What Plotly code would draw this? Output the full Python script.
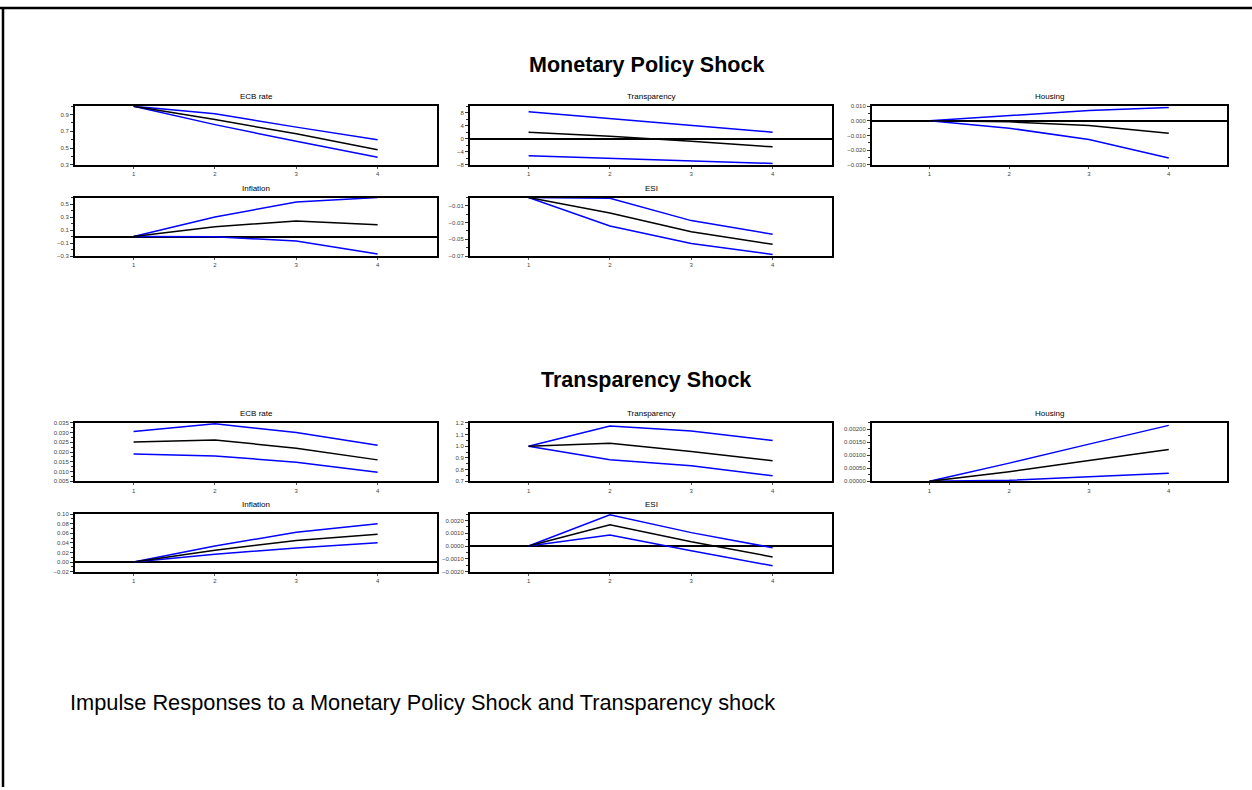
import plotly.graph_objs as go

W, H = 1252, 790

horizon = [1, 2, 3, 4]

# Monetary policy shock: responses (median, lower band, upper band)
mp_ecb_mid = [1.0, 0.84, 0.67, 0.48]
mp_ecb_lo = [1.0, 0.78, 0.58, 0.39]
mp_ecb_hi = [1.0, 0.91, 0.75, 0.60]

mp_transp_mid = [2.0, 0.8, -0.8, -2.5]
mp_transp_lo = [-5.2, -6.0, -6.8, -7.6]
mp_transp_hi = [8.3, 6.2, 4.2, 2.0]

mp_house_mid = [0.0, -0.0007, -0.0031, -0.0084]
mp_house_lo = [0.0, -0.0050, -0.0127, -0.0254]
mp_house_hi = [0.0, 0.0037, 0.0071, 0.0092]

mp_infl_mid = [0.0, 0.15, 0.24, 0.18]
mp_infl_lo = [0.0, -0.003, -0.07, -0.27]
mp_infl_hi = [0.0, 0.30, 0.53, 0.60]

mp_esi_mid = [0.0, -0.0186, -0.041, -0.056]
mp_esi_lo = [0.0, -0.034, -0.055, -0.068]
mp_esi_hi = [0.0, -0.001, -0.0276, -0.044]

# Transparency shock
ts_ecb_mid = [0.0252, 0.0262, 0.0220, 0.0160]
ts_ecb_lo = [0.0190, 0.0180, 0.0148, 0.0097]
ts_ecb_hi = [0.0305, 0.0345, 0.0300, 0.0235]

ts_transp_mid = [1.0, 1.025, 0.955, 0.876]
ts_transp_lo = [1.0, 0.884, 0.833, 0.748]
ts_transp_hi = [1.0, 1.172, 1.130, 1.048]

ts_house_mid = [0.0, 0.00037, 0.00080, 0.00122]
ts_house_lo = [0.0, 0.00004, 0.00018, 0.00031]
ts_house_hi = [0.0, 0.00070, 0.00143, 0.00215]

ts_infl_mid = [0.0, 0.0247, 0.045, 0.058]
ts_infl_lo = [0.0, 0.0164, 0.0295, 0.040]
ts_infl_hi = [0.0, 0.0335, 0.062, 0.080]

ts_esi_mid = [0.0, 0.00167, 0.00033, -0.00085]
ts_esi_lo = [0.0, 0.00087, -0.00036, -0.00154]
ts_esi_hi = [0.0, 0.00244, 0.00105, -0.00013]

FONT = "Liberation Sans Narrow, Arial Narrow, Liberation Sans, Arial, sans-serif"

# panel boxes in pixels: (left, right, top, bottom)
cols = [(75, 437), (470, 832), (872, 1227)]
rows = [(104, 163), (196, 255), (423, 482), (515, 573)]

panels = [
    # title, row, col, mid, lo, hi, yrange, dtick, minor dtick, format, zero line, tick0
    ("ECB rate", 0, 0, mp_ecb_mid, mp_ecb_lo, mp_ecb_hi, [0.3, 1.0], 0.2, 0.1, ".1f", False, 0.3),
    ("Transparency", 0, 1, mp_transp_mid, mp_transp_lo, mp_transp_hi, [-8, 10], 4, 2, "d", True, -8),
    ("Housing", 0, 2, mp_house_mid, mp_house_lo, mp_house_hi, [-0.03, 0.01], 0.01, 0.005, ".3f", True, -0.03),
    ("Inflation", 1, 0, mp_infl_mid, mp_infl_lo, mp_infl_hi, [-0.3, 0.6], 0.2, 0.1, ".1f", True, -0.3),
    ("ESI", 1, 1, mp_esi_mid, mp_esi_lo, mp_esi_hi, [-0.07, 0.0], 0.02, 0.01, ".2f", False, -0.07),
    ("ECB rate", 2, 0, ts_ecb_mid, ts_ecb_lo, ts_ecb_hi, [0.005, 0.035], 0.005, 0.0025, ".3f", False, 0.005),
    ("Transparency", 2, 1, ts_transp_mid, ts_transp_lo, ts_transp_hi, [0.7, 1.2], 0.1, 0.05, ".1f", False, 0.7),
    ("Housing", 2, 2, ts_house_mid, ts_house_lo, ts_house_hi, [0.0, 0.00225], 0.0005, 0.00025, ".5f", True, 0.0),
    ("Inflation", 3, 0, ts_infl_mid, ts_infl_lo, ts_infl_hi, [-0.02, 0.10], 0.02, 0.01, ".2f", True, -0.02),
    ("ESI", 3, 1, ts_esi_mid, ts_esi_lo, ts_esi_hi, [-0.002, 0.0025], 0.001, 0.0005, ".4f", True, -0.002),
]

fig = go.Figure()
annotations = []
layout = {}

for i, (title, r, c, mid, lo, hi, yr, dt, mdt, fmt, zero, t0) in enumerate(panels, start=1):
    xa = "x" if i == 1 else f"x{i}"
    ya = "y" if i == 1 else f"y{i}"
    left, right = cols[c]
    top, bottom = rows[r]
    for vals, colr in [(hi, "#0000ff"), (lo, "#0000ff"), (mid, "#000000")]:
        fig.add_trace(go.Scatter(x=horizon, y=vals, mode="lines", xaxis=xa, yaxis=ya,
                                 line=dict(color=colr, width=1.5), showlegend=False,
                                 hoverinfo="skip"))
    layout["xaxis" if i == 1 else f"xaxis{i}"] = dict(
        domain=[left / W, right / W], anchor=ya, range=[0.28, 4.73],
        tickvals=horizon, ticks="outside", ticklen=2, tickcolor="#555",
        tickfont=dict(size=6, color="#444", family=FONT),
        showline=True, linecolor="black", linewidth=2, mirror=True,
        showgrid=False, zeroline=False, fixedrange=True)
    layout["yaxis" if i == 1 else f"yaxis{i}"] = dict(
        domain=[1 - bottom / H, 1 - top / H], anchor=xa, range=yr,
        tick0=t0, dtick=dt, tickformat=fmt, ticks="outside", ticklen=3, tickcolor="#333",
        minor=dict(dtick=mdt, tick0=t0, ticks="outside", ticklen=2, tickcolor="#333"),
        tickfont=dict(size=6, color="#444", family=FONT),
        showline=True, linecolor="black", linewidth=2, mirror=True,
        showgrid=False, zeroline=zero, zerolinecolor="black", zerolinewidth=1.5,
        fixedrange=True)
    annotations.append(dict(text=title, x=(left + right) / 2 / W, y=1 - (top - 3) / H,
                            xref="paper", yref="paper", xanchor="center", yanchor="bottom",
                            showarrow=False, font=dict(size=8, color="black", family=FONT)))

annotations += [
    dict(text="<b>Monetary Policy Shock</b>", x=646 / W, y=1 - 62 / H, xref="paper", yref="paper",
         xanchor="center", yanchor="middle", showarrow=False,
         font=dict(size=21.5, color="black", family=FONT)),
    dict(text="<b>Transparency Shock</b>", x=646 / W, y=1 - 380 / H, xref="paper", yref="paper",
         xanchor="center", yanchor="middle", showarrow=False,
         font=dict(size=21.5, color="black", family=FONT)),
    dict(text="Impulse Responses to a Monetary Policy Shock and Transparency shock",
         x=68 / W, y=1 - 705 / H, xref="paper", yref="paper",
         xanchor="left", yanchor="middle", showarrow=False,
         font=dict(size=21.8, color="black", family=FONT)),
]

# page frame
shapes = [
    dict(type="line", xref="paper", yref="paper", x0=0, x1=1, y0=1 - 5 / H, y1=1 - 5 / H,
         line=dict(color="black", width=2.5)),
    dict(type="line", xref="paper", yref="paper", x0=3 / W, x1=3 / W, y0=0, y1=1 - 5 / H,
         line=dict(color="black", width=2.5)),
]

fig.update_layout(
    width=W, height=H, margin=dict(l=0, r=0, t=0, b=0),
    paper_bgcolor="white", plot_bgcolor="white",
    font=dict(family=FONT), annotations=annotations, shapes=shapes,
    **layout)

fig.write_html("out.html", config={"displayModeBar": False},
               post_script="document.body.style.margin='0';")
